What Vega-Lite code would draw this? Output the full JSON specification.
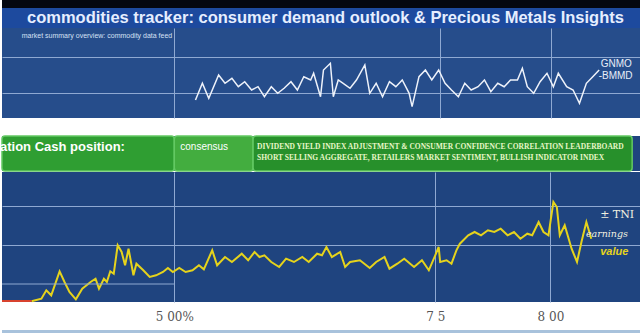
{
  "$schema": "https://vega.github.io/schema/vega-lite/v6.json",
  "padding": 0,
  "background": "#ffffff",
  "config": {"view": {"stroke": null}, "font": "Liberation Sans"},
  "datasets": {
    "top": [
      {"t":39.3,"v":18},{"t":40.7,"v":34.7},{"t":42,"v":19.7},{"t":44,"v":43},{"t":45.3,"v":34.7},{"t":46.7,"v":39.7},{"t":48,"v":31.3},{"t":49.3,"v":36.3},{"t":50.7,"v":28},{"t":52,"v":31.3},{"t":53.3,"v":21.3},{"t":54.7,"v":31.3},{"t":56,"v":24.7},{"t":57.3,"v":29.7},{"t":58.7,"v":36.3},{"t":60,"v":28},{"t":61.3,"v":41.3},{"t":62.7,"v":38},{"t":63.3,"v":44.7},{"t":64.7,"v":21.3},{"t":65.3,"v":48},{"t":66.7,"v":54.7},{"t":67.3,"v":21.3},{"t":68.3,"v":38},{"t":69.3,"v":34.7},{"t":70.7,"v":29.7},{"t":72,"v":38},{"t":73.7,"v":53},{"t":74.7,"v":24.7},{"t":76,"v":34.7},{"t":77.3,"v":21.3},{"t":78.7,"v":36.3},{"t":80,"v":31.3},{"t":81.3,"v":38},{"t":82.7,"v":24.7},{"t":83.3,"v":11.3},{"t":84.7,"v":41.3},{"t":86,"v":48},{"t":87.3,"v":38},{"t":88.7,"v":48},{"t":90,"v":34.7},{"t":91.3,"v":28},{"t":92.7,"v":21.3},{"t":94,"v":34.7},{"t":95.3,"v":28},{"t":96.7,"v":31.3},{"t":98,"v":38},{"t":99.3,"v":26.3},{"t":100.7,"v":34.7},{"t":102,"v":31.3},{"t":103.3,"v":38},{"t":104.7,"v":38},{"t":105.7,"v":49.7},{"t":106.7,"v":31.3},{"t":108,"v":24.7},{"t":109.3,"v":36.3},{"t":110.7,"v":44.7},{"t":112,"v":31.3},{"t":113,"v":44.7},{"t":114.7,"v":31.3},{"t":116,"v":28},{"t":117.3,"v":14.7},{"t":118.7,"v":34.7},{"t":120,"v":41.3},{"t":121.3,"v":48}
    ],
    "bottom": [
      {"t":6,"v":0.7},{"t":8,"v":3.3},{"t":9,"v":11.7},{"t":10,"v":6.7},{"t":11.7,"v":30.7},{"t":12.7,"v":20},{"t":13.7,"v":10},{"t":15,"v":2.7},{"t":16.3,"v":13.3},{"t":18,"v":20},{"t":19,"v":23.3},{"t":19.7,"v":13.3},{"t":20.7,"v":23.3},{"t":21.3,"v":20},{"t":22,"v":30.7},{"t":22.7,"v":28.3},{"t":23.5,"v":56.7},{"t":24.3,"v":50},{"t":25,"v":36.7},{"t":25.7,"v":53.3},{"t":26.7,"v":26.7},{"t":27.3,"v":38.3},{"t":28.7,"v":31.7},{"t":30,"v":25},{"t":31.3,"v":26.7},{"t":32.7,"v":30},{"t":33.7,"v":34},{"t":34.7,"v":30},{"t":36,"v":34},{"t":37.3,"v":30},{"t":38.7,"v":31.7},{"t":40,"v":36.7},{"t":41,"v":32.7},{"t":42.7,"v":51.7},{"t":43.7,"v":36.7},{"t":45.3,"v":45},{"t":46.7,"v":40},{"t":48.7,"v":48.3},{"t":50,"v":41.7},{"t":51.3,"v":50},{"t":52.3,"v":45},{"t":53.3,"v":46.7},{"t":54.7,"v":40},{"t":56.3,"v":35},{"t":57.7,"v":43.3},{"t":59.3,"v":40},{"t":61,"v":45},{"t":62.3,"v":40},{"t":64,"v":48.3},{"t":65,"v":46.7},{"t":65.9,"v":55},{"t":67,"v":45},{"t":68.7,"v":50},{"t":69.7,"v":35},{"t":70.7,"v":40},{"t":72.7,"v":41.7},{"t":74.7,"v":34},{"t":76,"v":40},{"t":77.7,"v":45},{"t":78.7,"v":33.3},{"t":80.3,"v":38.3},{"t":81.7,"v":43.3},{"t":83.7,"v":35},{"t":85.3,"v":41.7},{"t":86.7,"v":31.7},{"t":88,"v":46.7},{"t":88.7,"v":55},{"t":89,"v":40},{"t":90.3,"v":41.7},{"t":91.3,"v":38.3},{"t":92.3,"v":51.7},{"t":93,"v":58.3},{"t":94.7,"v":66.7},{"t":96,"v":70},{"t":97.3,"v":66.7},{"t":98.7,"v":71.7},{"t":100,"v":70},{"t":101.3,"v":73.3},{"t":102.7,"v":66.7},{"t":104,"v":70},{"t":105.3,"v":63.3},{"t":106.7,"v":68.3},{"t":107.7,"v":66.7},{"t":109,"v":80},{"t":110,"v":70},{"t":111,"v":66.7},{"t":112,"v":100},{"t":112.7,"v":95},{"t":113.3,"v":66.7},{"t":114.3,"v":76.7},{"t":115.7,"v":53.3},{"t":116.8,"v":40},{"t":117.7,"v":60},{"t":118.7,"v":80},{"t":119.7,"v":63.3}
    ],
    "banner": [
      {"order":1,"seg":"a","span":35,"label":"ation Cash position:"},
      {"order":2,"seg":"b","span":16,"label":"consensus"},
      {"order":3,"seg":"c","span":77,"label":["DIVIDEND YIELD INDEX ADJUSTMENT & CONSUMER CONFIDENCE CORRELATION LEADERBOARD","SHORT SELLING AGGREGATE, RETAILERS MARKET SENTIMENT, BULLISH INDICATOR INDEX"]}
    ]
  },
  "vconcat": [
    {
      "vconcat": [
        {
          "width": 640, "height": 8,
          "view": {"fill": "#04070f", "stroke": null},
          "data": {"values": [{"k": 1}]},
          "mark": {"type": "rect", "fill": "#04070f"},
          "encoding": {"x": {"datum": 0, "type": "quantitative", "scale": {"domain": [0, 1]}, "axis": null}, "x2": {"datum": 1}}
        },
        {
          "width": 640, "height": 20,
          "view": {"fill": "#1d4a9e", "stroke": null},
          "data": {"values": [{"title": "commodities tracker: consumer demand outlook & Precious Metals Insights"}]},
          "mark": {"type": "text", "fontSize": 16.5, "fontWeight": "bold", "color": "#e6eeff", "align": "left", "baseline": "middle", "font": "Liberation Sans"},
          "encoding": {
            "x": {"datum": 5, "type": "quantitative", "scale": {"domain": [0, 128]}, "axis": null},
            "y": {"datum": 10, "type": "quantitative", "scale": {"domain": [0, 20]}, "axis": null},
            "text": {"field": "title"}}
        },
        {
          "width": 640, "height": 90,
          "view": {"fill": "#264d8b", "stroke": null},
          "layer": [
            {"data": {"name": "top"},
             "mark": {"type": "line", "color": "#eef2fa", "strokeWidth": 1.5},
             "encoding": {
               "x": {"field": "t", "type": "quantitative", "scale": {"domain": [0, 128]},
                     "axis": {"values": [35, 89, 111.6], "grid": true, "gridColor": "#8fa9d2", "labels": false, "ticks": false, "domain": false, "title": null}},
               "y": {"field": "v", "type": "quantitative", "scale": {"domain": [0, 90]},
                     "axis": {"values": [25, 61], "grid": true, "gridColor": "#8fa9d2", "labels": false, "ticks": false, "domain": false, "title": null}}}},
            {"data": {"values": [{"label": "market summary overview: commodity data feed"}]},
             "mark": {"type": "text", "fontSize": 7, "color": "#d5e0f4", "align": "left", "baseline": "middle"},
             "encoding": {"x": {"datum": 4, "type": "quantitative"}, "y": {"datum": 82, "type": "quantitative"}, "text": {"field": "label"}}},
            {"data": {"values": [{"label": "GNMO"}]},
             "mark": {"type": "text", "fontSize": 10, "color": "#e8eef8", "align": "left", "baseline": "middle"},
             "encoding": {"x": {"datum": 121.6, "type": "quantitative"}, "y": {"datum": 54, "type": "quantitative"}, "text": {"field": "label"}}},
            {"data": {"values": [{"label": "-BMMD"}]},
             "mark": {"type": "text", "fontSize": 10, "color": "#e8eef8", "align": "left", "baseline": "middle"},
             "encoding": {"x": {"datum": 121.2, "type": "quantitative"}, "y": {"datum": 42, "type": "quantitative"}, "text": {"field": "label"}}}
          ]
        }
      ],
      "spacing": 0
    },
    {
      "vconcat": [
        {
          "vconcat": [
            {
              "width": 640, "height": 35,
              "view": {"fill": "#1f447f", "stroke": null},
              "data": {"name": "banner"},
              "transform": [{"stack": "span", "groupby": [], "sort": [{"field": "order", "order": "ascending"}], "as": ["s0", "s1"]}],
              "layer": [
                {"mark": {"type": "rect", "stroke": "#63c963", "strokeWidth": 1.5, "cornerRadius": 3},
                 "encoding": {
                   "x": {"field": "s0", "type": "quantitative", "scale": {"domain": [0, 128]}, "axis": null},
                   "x2": {"field": "s1"},
                   "color": {"field": "seg", "type": "nominal", "scale": {"domain": ["a", "b", "c"], "range": ["#2f9e32", "#43ad3f", "#27902b"]}, "legend": null}}},
                {"transform": [{"filter": "datum.seg == 'a'"}],
                 "mark": {"type": "text", "fontSize": 13, "fontWeight": "bold", "color": "#ffffff", "align": "left", "baseline": "middle", "dx": -2},
                 "encoding": {"x": {"field": "s0", "type": "quantitative"}, "y": {"datum": 24, "type": "quantitative", "scale": {"domain": [0, 35]}, "axis": null}, "text": {"field": "label"}}},
                {"transform": [{"filter": "datum.seg == 'b'"}],
                 "mark": {"type": "text", "fontSize": 10, "color": "#ffffff", "align": "left", "baseline": "middle", "dx": 6},
                 "encoding": {"x": {"field": "s0", "type": "quantitative"}, "y": {"datum": 24, "type": "quantitative"}, "text": {"field": "label"}}},
                {"transform": [{"filter": "datum.seg == 'c'"}],
                 "mark": {"type": "text", "fontSize": 7.5, "fontWeight": "bold", "color": "#e9f7c8", "align": "left", "baseline": "middle", "dx": 4, "lineHeight": 11, "font": "Liberation Sans Narrow"},
                 "encoding": {"x": {"field": "s0", "type": "quantitative"}, "y": {"datum": 24, "type": "quantitative"}, "text": {"field": "label"}}}
              ]
            },
            {
              "width": 640, "height": 130,
              "view": {"fill": "#1f447f", "stroke": null},
              "layer": [
                {"data": {"name": "bottom"},
                 "mark": {"type": "line", "color": "#e5d31c", "strokeWidth": 2},
                 "encoding": {
                   "x": {"field": "t", "type": "quantitative", "scale": {"domain": [0, 128]},
                         "axis": {"values": [35, 88, 111.4], "grid": true, "gridColor": "#8fa9d2", "ticks": false, "domain": false, "title": null,
                                  "labelExpr": "datum.value < 50 ? '5 00%' : datum.value < 100 ? '7 5' : '8 00'",
                                  "labelFont": "DejaVu Serif", "labelFontSize": 12, "labelColor": "#555555", "labelPadding": 9}},
                   "y": {"field": "v", "type": "quantitative", "scale": {"domain": [0, 130]},
                         "axis": {"values": [57, 96], "grid": true, "gridColor": "#8fa9d2", "labels": false, "ticks": false, "domain": false, "title": null}}}},
                {"data": {"values": [{"k": 1}]},
                 "mark": {"type": "rule", "color": "#8fa9d2", "strokeWidth": 1},
                 "encoding": {"x": {"datum": 0, "type": "quantitative"}, "x2": {"datum": 35}, "y": {"datum": 18, "type": "quantitative"}}},
                {"data": {"values": [{"k": 1}]},
                 "mark": {"type": "rule", "color": "#d8422e", "strokeWidth": 2},
                 "encoding": {"x": {"datum": 0, "type": "quantitative"}, "x2": {"datum": 6}, "y": {"datum": 1, "type": "quantitative"}}},
                {"data": {"values": [{"label": "± TNI"}]},
                 "mark": {"type": "text", "fontSize": 11, "color": "#f0f0e0", "align": "left", "baseline": "middle", "font": "DejaVu Serif"},
                 "encoding": {"x": {"datum": 121.5, "type": "quantitative"}, "y": {"datum": 87, "type": "quantitative"}, "text": {"field": "label"}}},
                {"data": {"values": [{"label": "earnings"}]},
                 "mark": {"type": "text", "fontSize": 9.5, "color": "#f0f0e0", "align": "left", "baseline": "middle", "font": "DejaVu Serif", "fontStyle": "italic"},
                 "encoding": {"x": {"datum": 118.6, "type": "quantitative"}, "y": {"datum": 68, "type": "quantitative"}, "text": {"field": "label"}}},
                {"data": {"values": [{"label": "value"}]},
                 "mark": {"type": "text", "fontSize": 11, "fontWeight": "bold", "color": "#e5d31c", "align": "left", "baseline": "middle", "fontStyle": "italic"},
                 "encoding": {"x": {"datum": 121.5, "type": "quantitative"}, "y": {"datum": 50, "type": "quantitative"}, "text": {"field": "label"}}}
              ]
            }
          ],
          "spacing": 0
        },
        {
          "width": 640, "height": 3,
          "view": {"fill": "#a8c2dc", "stroke": null},
          "data": {"values": [{"k": 1}]},
          "mark": {"type": "rect", "color": "#a8c2dc"},
          "encoding": {"x": {"datum": 0, "type": "quantitative", "scale": {"domain": [0, 1]}, "axis": null}, "x2": {"datum": 1}}
        }
      ],
      "spacing": 8
    }
  ],
  "spacing": 17
}
